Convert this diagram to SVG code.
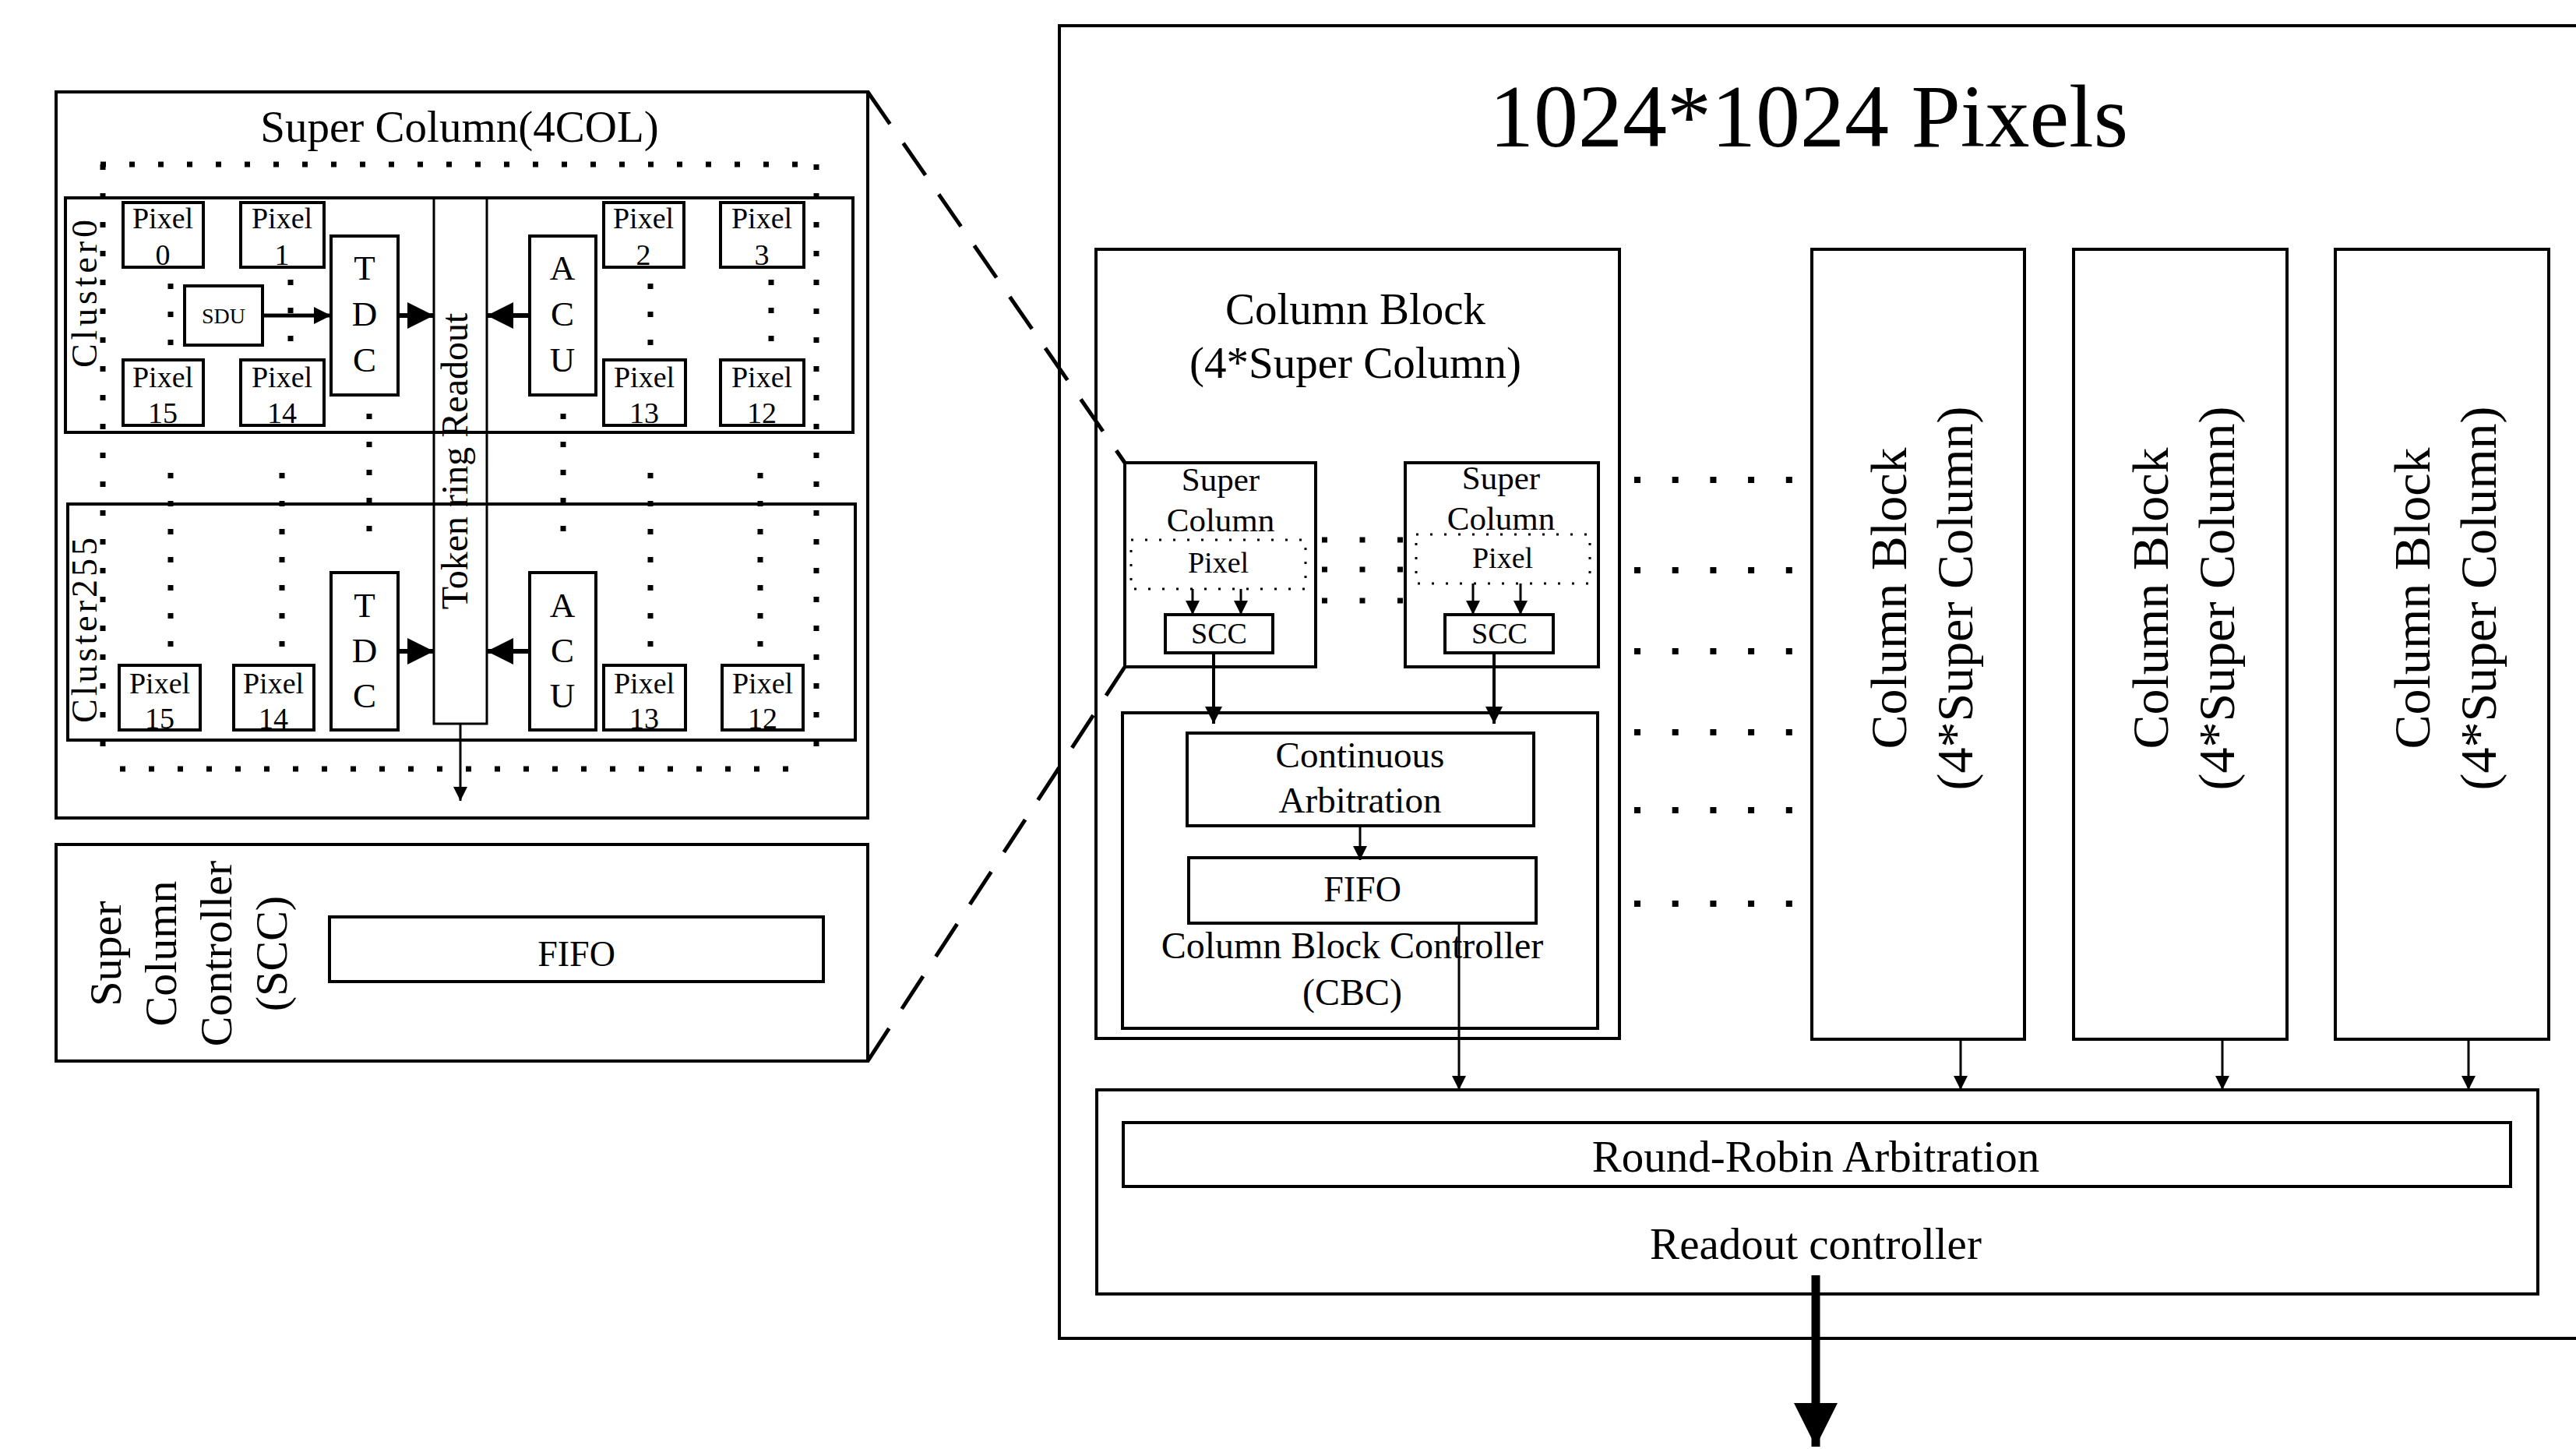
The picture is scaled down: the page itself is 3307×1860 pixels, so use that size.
<svg xmlns="http://www.w3.org/2000/svg" width="3307" height="1860" viewBox="0 0 3307 1860">
<defs>
<style>
.box{fill:none;stroke:#000;stroke-width:4}
.bar{fill:none;stroke:#000;stroke-width:3}
.t{font-family:"Liberation Serif","Times New Roman",serif;fill:#000;text-anchor:middle}
.m{font-family:"Liberation Serif","Times New Roman",serif;fill:#000;text-anchor:middle}
.dot{fill:none;stroke:#000;stroke-width:7;stroke-dasharray:7 30}
.dotv{fill:none;stroke:#000;stroke-width:7;stroke-dasharray:7 29}
.dotr{fill:none;stroke:#000;stroke-width:8;stroke-dasharray:8 40.7}
.dots{fill:none;stroke:#000;stroke-width:7;stroke-dasharray:7 41.5}
.pdot{fill:none;stroke:#000;stroke-width:3;stroke-dasharray:3 15}
.ln{fill:none;stroke:#000}
.dash{fill:none;stroke:#000;stroke-width:5;stroke-dasharray:50 30}
</style>
<marker id="ahBig" viewBox="0 0 10 10" refX="10" refY="5" markerUnits="userSpaceOnUse" markerWidth="34" markerHeight="34" orient="auto"><path d="M0,0 L10,5 L0,10 z"/></marker>
<marker id="ahMed" viewBox="0 0 10 10" refX="10" refY="5" markerUnits="userSpaceOnUse" markerWidth="24" markerHeight="22" orient="auto"><path d="M0,0 L10,5 L0,10 z"/></marker>
<marker id="ahSm" viewBox="0 0 10 10" refX="10" refY="5" markerUnits="userSpaceOnUse" markerWidth="20" markerHeight="18" orient="auto"><path d="M0,0 L10,5 L0,10 z"/></marker>
<marker id="ahThin" viewBox="0 0 10 10" refX="10" refY="5" markerUnits="userSpaceOnUse" markerWidth="26" markerHeight="18" orient="auto"><path d="M0,0 L10,5 L0,10 z"/></marker>
<marker id="ahOut" viewBox="0 0 10 10" refX="10" refY="5" markerUnits="userSpaceOnUse" markerWidth="60" markerHeight="56" orient="auto"><path d="M0,0 L10,5 L0,10 z"/></marker>
</defs>
<rect width="3307" height="1860" fill="#fff"/>

<!-- LEFT: Super Column detail -->
<g id="super-column">
<rect class="box" x="72" y="118" width="1042" height="932"/>
<text class="t" x="590" y="182" font-size="57">Super Column(4COL)</text>
<rect class="bar" x="557" y="254" width="68" height="675"/>
<text class="t" font-size="48" transform="translate(600,592) rotate(-90)">Token ring Readout</text>
</g>
<g id="dotted-frame">
<line class="dot" x1="129" y1="211" x2="1052" y2="211"/>
<line class="dot" x1="132" y1="211" x2="132" y2="985"/>
<line class="dot" x1="1048" y1="211" x2="1048" y2="985"/>
<line class="dot" x1="154" y1="987" x2="1034" y2="987"/>
<line class="dotv" x1="219" y1="364" x2="219" y2="446"/>
<line class="dotv" x1="373" y1="359" x2="373" y2="441"/>
<line class="dotv" x1="835" y1="364" x2="835" y2="446"/>
<line class="dotv" x1="990" y1="359" x2="990" y2="441"/>
<line class="dotv" x1="219" y1="607" x2="219" y2="838"/>
<line class="dotv" x1="362" y1="607" x2="362" y2="838"/>
<line class="dotv" x1="835" y1="607" x2="835" y2="838"/>
<line class="dotv" x1="976" y1="607" x2="976" y2="838"/>
<line class="dotv" x1="474" y1="531" x2="474" y2="686"/>
<line class="dotv" x1="723" y1="531" x2="723" y2="686"/>
</g>
<g id="cluster0">
<rect class="box" x="84" y="254" width="1011" height="301"/>
<text class="m" font-size="46" textLength="190" lengthAdjust="spacing" transform="translate(124,377) rotate(-90)">Cluster0</text>
</g>
<g id="c0-pixel0"><rect class="box" x="158" y="260" width="103" height="83"/><text class="t" font-size="38" x="209" y="293">Pixel</text><text class="t" font-size="38" x="209" y="340">0</text></g>
<g id="c0-pixel1"><rect class="box" x="309" y="260" width="107" height="83"/><text class="t" font-size="38" x="362" y="293">Pixel</text><text class="t" font-size="38" x="362" y="340">1</text></g>
<g id="c0-pixel2"><rect class="box" x="775" y="260" width="103" height="83"/><text class="t" font-size="38" x="826" y="293">Pixel</text><text class="t" font-size="38" x="826" y="340">2</text></g>
<g id="c0-pixel3"><rect class="box" x="925" y="260" width="107" height="83"/><text class="t" font-size="38" x="978" y="293">Pixel</text><text class="t" font-size="38" x="978" y="340">3</text></g>
<g id="c0-pixel15"><rect class="box" x="158" y="462" width="103" height="84"/><text class="t" font-size="38" x="209" y="497">Pixel</text><text class="t" font-size="38" x="209" y="543">15</text></g>
<g id="c0-pixel14"><rect class="box" x="309" y="462" width="107" height="84"/><text class="t" font-size="38" x="362" y="497">Pixel</text><text class="t" font-size="38" x="362" y="543">14</text></g>
<g id="c0-pixel13"><rect class="box" x="775" y="462" width="105" height="84"/><text class="t" font-size="38" x="827" y="497">Pixel</text><text class="t" font-size="38" x="827" y="543">13</text></g>
<g id="c0-pixel12"><rect class="box" x="925" y="462" width="107" height="84"/><text class="t" font-size="38" x="978" y="497">Pixel</text><text class="t" font-size="38" x="978" y="543">12</text></g>
<g id="c0-sdu"><rect class="box" x="237" y="367" width="100" height="76"/><text class="t" font-size="28" x="287" y="415">SDU</text></g>
<g id="c0-tdc"><rect class="box" x="425" y="303" width="86" height="204"/><text class="t" font-size="45" x="468" y="359">T</text><text class="t" font-size="45" x="468" y="418">D</text><text class="t" font-size="45" x="468" y="477">C</text></g>
<g id="c0-acu"><rect class="box" x="680" y="303" width="85" height="204"/><text class="t" font-size="45" x="722" y="359">A</text><text class="t" font-size="45" x="722" y="418">C</text><text class="t" font-size="45" x="722" y="477">U</text></g>

<g id="cluster255">
<rect class="box" x="87" y="647" width="1011" height="303"/>
<text class="m" font-size="46" textLength="238" lengthAdjust="spacing" transform="translate(124,809) rotate(-90)">Cluster255</text>
</g>
<g id="c255-pixel15"><rect class="box" x="153" y="854" width="104" height="83"/><text class="t" font-size="38" x="205" y="890">Pixel</text><text class="t" font-size="38" x="205" y="935">15</text></g>
<g id="c255-pixel14"><rect class="box" x="300" y="854" width="103" height="83"/><text class="t" font-size="38" x="351" y="890">Pixel</text><text class="t" font-size="38" x="351" y="935">14</text></g>
<g id="c255-pixel13"><rect class="box" x="775" y="854" width="105" height="83"/><text class="t" font-size="38" x="827" y="890">Pixel</text><text class="t" font-size="38" x="827" y="935">13</text></g>
<g id="c255-pixel12"><rect class="box" x="927" y="854" width="104" height="83"/><text class="t" font-size="38" x="979" y="890">Pixel</text><text class="t" font-size="38" x="979" y="935">12</text></g>
<g id="c255-tdc"><rect class="box" x="425" y="735" width="86" height="202"/><text class="t" font-size="45" x="468" y="792">T</text><text class="t" font-size="45" x="468" y="850">D</text><text class="t" font-size="45" x="468" y="908">C</text></g>
<g id="c255-acu"><rect class="box" x="680" y="735" width="85" height="202"/><text class="t" font-size="45" x="722" y="792">A</text><text class="t" font-size="45" x="722" y="850">C</text><text class="t" font-size="45" x="722" y="908">U</text></g>

<g id="scc-detail">
<rect class="box" x="72" y="1084" width="1042" height="278"/>
<text class="t" font-size="58" transform="translate(155,1224) rotate(-90)">Super</text>
<text class="t" font-size="58" transform="translate(226,1224) rotate(-90)">Column</text>
<text class="t" font-size="58" transform="translate(297,1224) rotate(-90)">Controller</text>
<text class="t" font-size="58" transform="translate(368,1224) rotate(-90)">(SCC)</text>
</g>
<g id="scc-fifo"><rect class="box" x="423" y="1177" width="634" height="83"/><text class="t" font-size="46" x="740" y="1240">FIFO</text></g>

<!-- RIGHT: chip -->
<g id="chip">
<rect class="box" x="1360" y="33" width="1970" height="1685"/>
<text class="t" font-size="114" x="2322" y="188">1024*1024 Pixels</text>
</g>
<g id="column-block-0">
<rect class="box" x="1407" y="320" width="672" height="1013"/>
<text class="t" font-size="57" x="1740" y="416">Column Block</text>
<text class="t" font-size="57" x="1740" y="485">(4*Super Column)</text>
</g>
<g id="super-column-a">
<rect class="box" x="1444" y="594" width="245" height="262"/>
<text class="t" font-size="43" x="1567" y="630">Super</text>
<text class="t" font-size="43" x="1567" y="682">Column</text>
<rect class="pdot" x="1452" y="693" width="224" height="63"/>
<text class="t" font-size="38" x="1564" y="735">Pixel</text>
</g>
<g id="scc-a"><rect class="box" x="1496" y="789" width="138" height="49"/><text class="t" font-size="38" x="1565" y="826">SCC</text></g>
<g id="super-column-b">
<rect class="box" x="1804" y="594" width="248" height="262"/>
<text class="t" font-size="43" x="1927" y="628">Super</text>
<text class="t" font-size="43" x="1927" y="680">Column</text>
<rect class="pdot" x="1818" y="686" width="223" height="63"/>
<text class="t" font-size="38" x="1929" y="729">Pixel</text>
</g>
<g id="scc-b"><rect class="box" x="1855" y="789" width="139" height="49"/><text class="t" font-size="38" x="1925" y="826">SCC</text></g>
<g id="sc-dots">
<line class="dots" x1="1697" y1="693" x2="1805" y2="693"/>
<line class="dots" x1="1697" y1="731" x2="1805" y2="731"/>
<line class="dots" x1="1697" y1="771" x2="1805" y2="771"/>
</g>
<g id="cbc">
<rect class="box" x="1441" y="915" width="610" height="405"/>
<text class="t" font-size="48" x="1736" y="1230">Column Block Controller</text>
<text class="t" font-size="48" x="1736" y="1290">(CBC)</text>
</g>
<g id="continuous-arbitration"><rect class="box" x="1524" y="941" width="445" height="119"/><text class="t" font-size="47" x="1746" y="985">Continuous</text><text class="t" font-size="47" x="1746" y="1043">Arbitration</text></g>
<g id="cbc-fifo"><rect class="box" x="1526" y="1101" width="446" height="84"/><text class="t" font-size="46" x="1749" y="1157">FIFO</text></g>
<g id="block-dots">
<line class="dotr" x1="2098" y1="616" x2="2302" y2="616"/>
<line class="dotr" x1="2098" y1="732" x2="2302" y2="732"/>
<line class="dotr" x1="2098" y1="836" x2="2302" y2="836"/>
<line class="dotr" x1="2098" y1="940" x2="2302" y2="940"/>
<line class="dotr" x1="2098" y1="1040" x2="2302" y2="1040"/>
<line class="dotr" x1="2098" y1="1160" x2="2302" y2="1160"/>
</g>
<g id="column-block-1"><rect class="box" x="2326" y="320" width="273" height="1014"/><text class="t" font-size="66" transform="translate(2447,768) rotate(-90)">Column Block</text><text class="t" font-size="66" transform="translate(2532,768) rotate(-90)">(4*Super Column)</text></g>
<g id="column-block-2"><rect class="box" x="2662" y="320" width="274" height="1014"/><text class="t" font-size="66" transform="translate(2783,768) rotate(-90)">Column Block</text><text class="t" font-size="66" transform="translate(2868,768) rotate(-90)">(4*Super Column)</text></g>
<g id="column-block-3"><rect class="box" x="2998" y="320" width="274" height="1014"/><text class="t" font-size="66" transform="translate(3119,768) rotate(-90)">Column Block</text><text class="t" font-size="66" transform="translate(3204,768) rotate(-90)">(4*Super Column)</text></g>
<g id="readout-controller">
<rect class="box" x="1408" y="1399" width="1850" height="262"/>
<text class="t" font-size="57" x="2331" y="1616">Readout controller</text>
</g>
<g id="round-robin"><rect class="box" x="1442" y="1441" width="1781" height="82"/><text class="t" font-size="57" x="2331" y="1504">Round-Robin Arbitration</text></g>

<g id="connectors">
<line class="ln" stroke-width="5" x1="337" y1="405" x2="425" y2="405" marker-end="url(#ahMed)"/>
<line class="ln" stroke-width="6" x1="511" y1="405" x2="557" y2="405" marker-end="url(#ahBig)"/>
<line class="ln" stroke-width="6" x1="680" y1="405" x2="625" y2="405" marker-end="url(#ahBig)"/>
<line class="ln" stroke-width="6" x1="511" y1="836" x2="557" y2="836" marker-end="url(#ahBig)"/>
<line class="ln" stroke-width="6" x1="680" y1="836" x2="625" y2="836" marker-end="url(#ahBig)"/>
<line class="ln" stroke-width="3" x1="591" y1="929" x2="591" y2="1028" marker-end="url(#ahThin)"/>
<line class="dash" x1="1114" y1="118" x2="1444" y2="594"/>
<line class="dash" x1="1114" y1="1362" x2="1444" y2="856"/>
<line class="ln" stroke-width="3" x1="1531" y1="756" x2="1531" y2="789" marker-end="url(#ahSm)"/>
<line class="ln" stroke-width="3" x1="1593" y1="756" x2="1593" y2="789" marker-end="url(#ahSm)"/>
<line class="ln" stroke-width="3" x1="1891" y1="749" x2="1891" y2="789" marker-end="url(#ahSm)"/>
<line class="ln" stroke-width="3" x1="1952" y1="749" x2="1952" y2="789" marker-end="url(#ahSm)"/>
<line class="ln" stroke-width="4" x1="1558" y1="840" x2="1558" y2="929" marker-end="url(#ahMed)"/>
<line class="ln" stroke-width="4" x1="1918" y1="840" x2="1918" y2="929" marker-end="url(#ahMed)"/>
<line class="ln" stroke-width="3" x1="1746" y1="1060" x2="1746" y2="1104" marker-end="url(#ahSm)"/>
<line class="ln" stroke-width="3" x1="1873" y1="1185" x2="1873" y2="1399" marker-end="url(#ahThin)"/>
<line class="ln" stroke-width="3" x1="2517" y1="1334" x2="2517" y2="1399" marker-end="url(#ahThin)"/>
<line class="ln" stroke-width="3" x1="2853" y1="1334" x2="2853" y2="1399" marker-end="url(#ahThin)"/>
<line class="ln" stroke-width="3" x1="3169" y1="1334" x2="3169" y2="1399" marker-end="url(#ahThin)"/>
<line class="ln" stroke-width="11" x1="2331" y1="1637" x2="2331" y2="1857" marker-end="url(#ahOut)"/>
</g>
</svg>
